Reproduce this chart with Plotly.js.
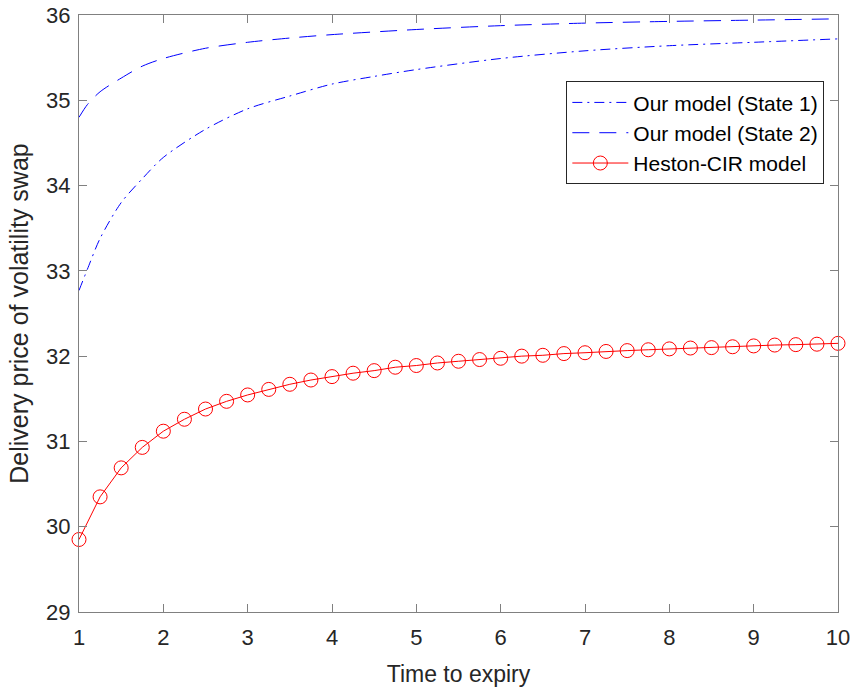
<!DOCTYPE html>
<html>
<head>
<meta charset="utf-8">
<script src="https://cdn.plot.ly/plotly-3.0.1.min.js"></script>
<style>html,body{margin:0;padding:0;background:#fff;}#chart{width:853px;height:691px;}</style>
</head>
<body>
<div id="chart"></div>
<script>
const state1X = [1, 1.1, 1.25, 1.5, 1.75, 2, 2.5, 3, 3.5, 4, 4.5, 5, 6, 7, 8, 9, 10];
const state1Y = [32.77, 33.02, 33.38, 33.80, 34.08, 34.33, 34.66, 34.90, 35.05, 35.19, 35.28, 35.36, 35.49, 35.58, 35.64, 35.68, 35.72];

const state2X = [1, 1.1, 1.25, 1.5, 1.75, 2, 2.5, 3, 3.5, 4, 5, 6, 7, 8, 9, 10];
const state2Y = [34.80, 34.95, 35.10, 35.26, 35.40, 35.49, 35.61, 35.68, 35.73, 35.77, 35.83, 35.875, 35.905, 35.925, 35.94, 35.955];

const hestonX = [1, 1.25, 1.5, 1.75, 2, 2.25, 2.5, 2.75, 3, 3.25, 3.5, 3.75, 4, 4.25, 4.5, 4.75, 5, 5.25, 5.5, 5.75, 6, 6.25, 6.5, 6.75, 7, 7.25, 7.5, 7.75, 8, 8.25, 8.5, 8.75, 9, 9.25, 9.5, 9.75, 10];
const hestonY = [29.85, 30.35, 30.69, 30.93, 31.12, 31.26, 31.38, 31.47, 31.545, 31.61, 31.67, 31.72, 31.76, 31.80, 31.83, 31.87, 31.89, 31.92, 31.94, 31.96, 31.975, 32.00, 32.01, 32.03, 32.04, 32.055, 32.065, 32.075, 32.085, 32.095, 32.10, 32.11, 32.12, 32.13, 32.135, 32.14, 32.15];

const seriesNames = ['Our model (State 1)', 'Our model (State 2)', 'Heston-CIR model'];
const xTicks = [1, 2, 3, 4, 5, 6, 7, 8, 9, 10];
const yTicks = [29, 30, 31, 32, 33, 34, 35, 36];

const traces = [
  {x: state1X, y: state1Y, name: seriesNames[0], type: 'scatter', mode: 'lines',
   line: {color: '#0000ff', width: 1, dash: '10px,5px,2px,5px', shape: 'spline', smoothing: 0.8}},
  {x: state2X, y: state2Y, name: seriesNames[1], type: 'scatter', mode: 'lines',
   line: {color: '#0000ff', width: 1, dash: '17px,10px', shape: 'spline', smoothing: 0.8}},
  {x: hestonX, y: hestonY, name: seriesNames[2], type: 'scatter', mode: 'lines+markers',
   line: {color: '#ff0000', width: 1},
   marker: {symbol: 'circle-open', size: 14, color: '#ff0000', line: {width: 1, color: '#ff0000'}},
   cliponaxis: false}
];

const axisCommon = {
  showgrid: false, zeroline: false, showline: true, linecolor: '#808080', linewidth: 1,
  mirror: 'ticks', ticks: 'inside', ticklen: 8, tickcolor: '#808080', tickwidth: 1
};

const layout = {
  width: 853, height: 691,
  margin: {l: 79, r: 15, t: 15, b: 79},
  paper_bgcolor: '#ffffff', plot_bgcolor: '#ffffff',
  font: {family: 'Liberation Sans, Arial, sans-serif', color: '#262626'},
  showlegend: true,
  xaxis: Object.assign({}, axisCommon, {
    range: [1, 10], tickvals: xTicks, ticktext: xTicks.map(String),
    tickfont: {family: 'Liberation Sans, Arial', size: 22, color: '#262626'},
    ticklabelstandoff: 6,
    title: {text: 'Time to expiry', font: {family: 'Liberation Sans, Arial', size: 23, color: '#262626'}, standoff: 16}
  }),
  yaxis: Object.assign({}, axisCommon, {
    range: [29, 36], tickvals: yTicks, ticktext: yTicks.map(String),
    tickfont: {family: 'Liberation Sans, Arial', size: 22, color: '#262626'},
    ticklabelstandoff: 3,
    title: {text: 'Delivery price of volatility swap', font: {family: 'Liberation Sans, Arial', size: 25, color: '#262626'}, standoff: 10}
  }),
  legend: {
    x: 0.982, xanchor: 'right', y: 0.889, yanchor: 'top',
    bgcolor: '#ffffff', bordercolor: '#262626', borderwidth: 1,
    font: {family: 'Liberation Sans, Arial', size: 21, color: '#000000'},
    itemwidth: 56, tracegroupgap: 0
  }
};

Plotly.newPlot('chart', traces, layout, {displayModeBar: false, staticPlot: true});
</script>
</body>
</html>
